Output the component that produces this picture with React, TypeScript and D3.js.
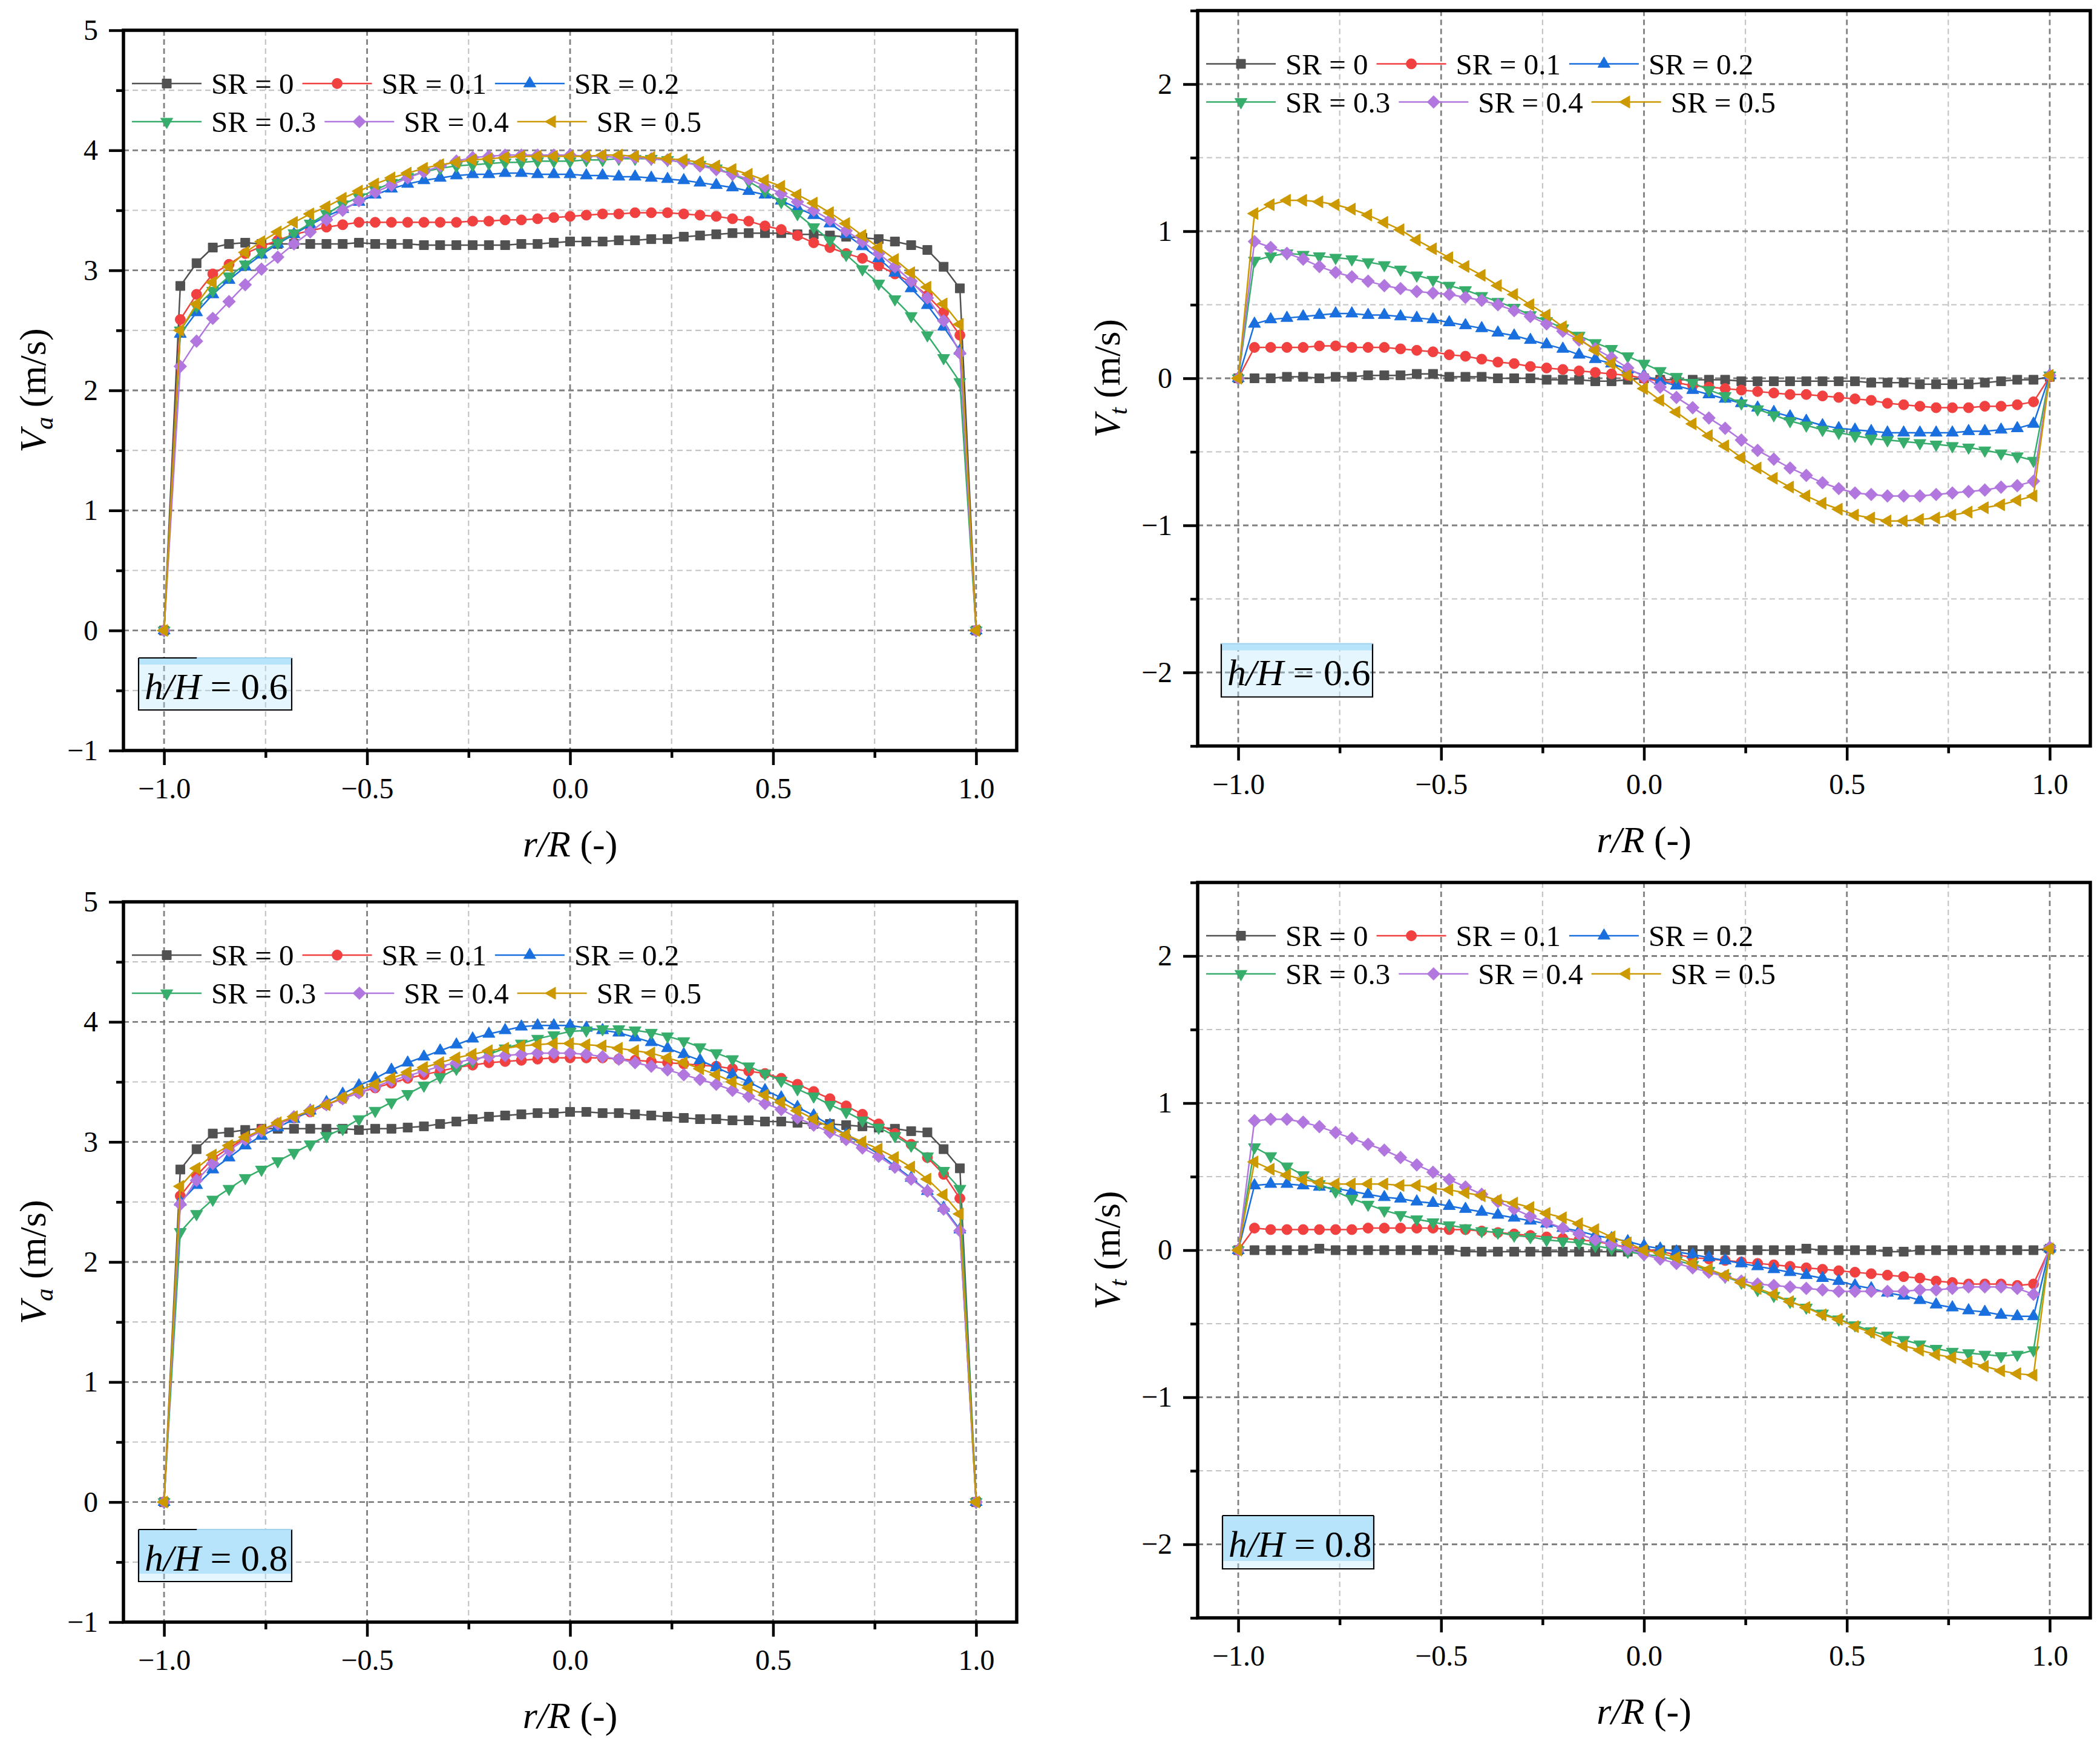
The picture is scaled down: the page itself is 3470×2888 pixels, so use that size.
import * as d3 from "d3";
import { useEffect, useRef } from "react";

// r/R positions of the samples
const rR = [
  -1.0, -0.96, -0.92, -0.88, -0.84, -0.8, -0.76, -0.72, -0.68, -0.64,
  -0.6, -0.56, -0.52, -0.48, -0.44, -0.4, -0.36, -0.32, -0.28, -0.24,
  -0.2, -0.16, -0.12, -0.08, -0.04, 0.0, 0.04, 0.08, 0.12, 0.16,
  0.2, 0.24, 0.28, 0.32, 0.36, 0.4, 0.44, 0.48, 0.52, 0.56,
  0.6, 0.64, 0.68, 0.72, 0.76, 0.8, 0.84, 0.88, 0.92, 0.96,
  1.0,
];

const srLabels = ["SR = 0", "SR = 0.1", "SR = 0.2", "SR = 0.3", "SR = 0.4", "SR = 0.5"];
const srColors = ["#515151", "#F14040", "#1A6FDF", "#37AD6B", "#B177DE", "#CC9900"];

// Va, h/H = 0.6
const va06Sr0 = [
  0, 2.87, 3.06, 3.19, 3.22, 3.23, 3.22, 3.22, 3.22, 3.22,
  3.22, 3.22, 3.23, 3.22, 3.22, 3.22, 3.21, 3.21, 3.21, 3.21,
  3.21, 3.21, 3.22, 3.22, 3.23, 3.24, 3.24, 3.24, 3.25, 3.25,
  3.26, 3.26, 3.28, 3.29, 3.3, 3.31, 3.31, 3.31, 3.31, 3.3,
  3.3, 3.29, 3.28, 3.27, 3.26, 3.24, 3.21, 3.17, 3.03, 2.85,
  0,
];
const va06Sr1 = [
  0, 2.59, 2.8, 2.97, 3.05, 3.14, 3.2, 3.25, 3.3, 3.33,
  3.36, 3.38, 3.4, 3.4, 3.4, 3.4, 3.4, 3.4, 3.4, 3.41,
  3.41, 3.42, 3.42, 3.43, 3.44, 3.45, 3.46, 3.47, 3.47, 3.48,
  3.48, 3.48, 3.47, 3.46, 3.45, 3.43, 3.41, 3.37, 3.34, 3.29,
  3.23, 3.19, 3.14, 3.1, 3.04, 2.97, 2.9, 2.79, 2.65, 2.46,
  0,
];
const va06Sr2 = [
  0, 2.47, 2.65, 2.8, 2.92, 3.03, 3.13, 3.22, 3.3, 3.38,
  3.45, 3.51, 3.57, 3.63, 3.68, 3.72, 3.75, 3.77, 3.79, 3.8,
  3.8, 3.81, 3.81, 3.8, 3.8, 3.8, 3.79, 3.79, 3.78, 3.78,
  3.77, 3.76, 3.75, 3.73, 3.71, 3.69, 3.66, 3.63, 3.58, 3.52,
  3.46, 3.39, 3.3, 3.2, 3.1, 2.98, 2.85, 2.71, 2.53, 2.33,
  0,
];
const va06Sr3 = [
  0, 2.5, 2.7, 2.83, 2.95, 3.05, 3.15, 3.23, 3.31, 3.39,
  3.47, 3.55, 3.61, 3.67, 3.73, 3.78, 3.82, 3.85, 3.87, 3.88,
  3.89, 3.9, 3.9, 3.91, 3.91, 3.91, 3.92, 3.92, 3.93, 3.93,
  3.93, 3.92, 3.9, 3.88, 3.85, 3.8, 3.74, 3.66, 3.57, 3.47,
  3.36, 3.25, 3.13, 3.01, 2.89, 2.76, 2.62, 2.46, 2.27, 2.07,
  0,
];
const va06Sr4 = [
  0, 2.2, 2.41, 2.6, 2.74, 2.88, 3.01, 3.11, 3.22, 3.32,
  3.42, 3.5, 3.58, 3.65, 3.71, 3.77, 3.82, 3.87, 3.91, 3.94,
  3.95, 3.96, 3.96, 3.96, 3.96, 3.96, 3.95, 3.95, 3.94, 3.94,
  3.93, 3.92, 3.9, 3.87, 3.84, 3.8, 3.76, 3.7, 3.64, 3.57,
  3.5, 3.42, 3.33, 3.24, 3.14, 3.03, 2.91, 2.77, 2.58, 2.31,
  0,
];
const va06Sr5 = [
  0, 2.5, 2.72, 2.9, 3.03, 3.15, 3.24, 3.32, 3.4, 3.47,
  3.53, 3.6, 3.66, 3.72, 3.77, 3.81, 3.85, 3.88, 3.9, 3.92,
  3.93, 3.94, 3.95, 3.95, 3.95, 3.95, 3.95, 3.96, 3.96, 3.95,
  3.94, 3.93, 3.92, 3.9, 3.87, 3.84, 3.8, 3.75, 3.7, 3.63,
  3.56, 3.48, 3.39, 3.29, 3.19, 3.09, 2.98, 2.86, 2.72, 2.55,
  0,
];

// Vt, h/H = 0.6
const vt06Sr0 = [
  0, 0.0, 0.0, 0.01, 0.01, 0.0, 0.01, 0.01, 0.02, 0.02,
  0.02, 0.03, 0.03, 0.01, 0.01, 0.01, 0.0, 0.0, 0.0, -0.01,
  -0.01, -0.01, -0.02, -0.02, -0.01, 0.0, -0.01, -0.01, -0.01, -0.01,
  -0.01, -0.02, -0.02, -0.02, -0.02, -0.02, -0.02, -0.02, -0.02, -0.03,
  -0.03, -0.03, -0.04, -0.04, -0.04, -0.04, -0.03, -0.02, -0.01, -0.01,
  0.01,
];
const vt06Sr1 = [
  0, 0.21, 0.21, 0.21, 0.21, 0.22, 0.22, 0.21, 0.21, 0.21,
  0.2, 0.19, 0.18, 0.16, 0.15, 0.13, 0.11, 0.1, 0.08, 0.07,
  0.06, 0.05, 0.04, 0.03, 0.02, 0.0, -0.02, -0.03, -0.05, -0.06,
  -0.07, -0.08, -0.09, -0.1, -0.11, -0.11, -0.12, -0.13, -0.14, -0.15,
  -0.17, -0.18, -0.19, -0.2, -0.2, -0.2, -0.19, -0.19, -0.18, -0.16,
  0.01,
];
const vt06Sr2 = [
  0, 0.37, 0.4, 0.41, 0.42, 0.43, 0.44, 0.44, 0.43, 0.43,
  0.42, 0.41, 0.4, 0.38, 0.36, 0.34, 0.31, 0.29, 0.26, 0.23,
  0.2, 0.16, 0.13, 0.1, 0.06, 0.02, -0.02, -0.05, -0.08, -0.11,
  -0.14, -0.17, -0.2, -0.23, -0.26, -0.29, -0.32, -0.34, -0.35, -0.36,
  -0.37, -0.37, -0.37, -0.37, -0.37, -0.36, -0.36, -0.35, -0.34, -0.31,
  0.02,
];
const vt06Sr3 = [
  0, 0.8, 0.83, 0.85, 0.84, 0.83, 0.82, 0.81, 0.79, 0.77,
  0.74, 0.7, 0.67, 0.63, 0.6, 0.56, 0.52, 0.48, 0.43, 0.39,
  0.34, 0.29, 0.24, 0.2, 0.15, 0.1, 0.05, 0.01, -0.03, -0.08,
  -0.12, -0.17, -0.21, -0.25, -0.29, -0.32, -0.35, -0.37, -0.39, -0.41,
  -0.42, -0.43, -0.44, -0.45, -0.46, -0.47, -0.49, -0.51, -0.53, -0.56,
  0.02,
];
const vt06Sr4 = [
  0, 0.93, 0.89, 0.85, 0.81, 0.76, 0.72, 0.69, 0.66, 0.63,
  0.61, 0.59, 0.58, 0.57, 0.55, 0.53, 0.5, 0.46, 0.42, 0.37,
  0.32, 0.26, 0.2, 0.14, 0.07, 0.01, -0.06, -0.13, -0.2, -0.27,
  -0.34, -0.42, -0.49, -0.55, -0.61, -0.66, -0.71, -0.75, -0.78, -0.79,
  -0.8, -0.8, -0.8, -0.79, -0.78, -0.77, -0.76, -0.74, -0.73, -0.7,
  0.02,
];
const vt06Sr5 = [
  0, 1.12, 1.18, 1.21, 1.21, 1.2, 1.18, 1.15, 1.11, 1.06,
  1.01, 0.94, 0.88, 0.82, 0.76, 0.7, 0.63, 0.57, 0.5, 0.43,
  0.35, 0.27, 0.19, 0.1, 0.02, -0.07, -0.15, -0.23, -0.31, -0.39,
  -0.46, -0.54, -0.61, -0.68, -0.74, -0.8, -0.85, -0.89, -0.93, -0.95,
  -0.97, -0.97, -0.96, -0.95, -0.93, -0.91, -0.88, -0.86, -0.83, -0.8,
  0.02,
];

// Va, h/H = 0.8
const va08Sr0 = [
  0, 2.77, 2.94, 3.07, 3.08, 3.1, 3.11, 3.11, 3.11, 3.11,
  3.11, 3.11, 3.1, 3.11, 3.11, 3.12, 3.13, 3.15, 3.17, 3.19,
  3.21, 3.22, 3.23, 3.24, 3.24, 3.25, 3.25, 3.24, 3.24, 3.23,
  3.22, 3.21, 3.2, 3.19, 3.19, 3.18, 3.18, 3.17, 3.17, 3.16,
  3.15, 3.15, 3.14, 3.13, 3.12, 3.11, 3.09, 3.08, 2.94, 2.78,
  0,
];
const va08Sr1 = [
  0, 2.55, 2.72, 2.86, 2.95, 3.03, 3.1, 3.15, 3.2, 3.25,
  3.31, 3.36, 3.41, 3.45, 3.49, 3.53, 3.56, 3.59, 3.62, 3.64,
  3.66, 3.67, 3.68, 3.69, 3.7, 3.7, 3.7, 3.7, 3.69, 3.68,
  3.67, 3.66, 3.65, 3.64, 3.63, 3.61, 3.59, 3.57, 3.53, 3.48,
  3.42, 3.36, 3.3, 3.23, 3.15, 3.07, 2.98, 2.87, 2.73, 2.53,
  0,
];
const va08Sr2 = [
  0, 2.5, 2.64, 2.77, 2.87, 2.97, 3.05, 3.12, 3.19, 3.26,
  3.33, 3.4, 3.47, 3.53, 3.6, 3.66, 3.71, 3.76, 3.81, 3.86,
  3.9, 3.93, 3.96, 3.97, 3.97, 3.97, 3.95, 3.93, 3.91, 3.87,
  3.83, 3.78, 3.73, 3.68, 3.62, 3.56, 3.5, 3.43, 3.37, 3.29,
  3.22, 3.14, 3.06, 2.98, 2.9, 2.8, 2.7, 2.59, 2.45, 2.27,
  0,
];
const va08Sr3 = [
  0, 2.25, 2.4, 2.52, 2.61, 2.7, 2.77, 2.84, 2.91, 2.98,
  3.05, 3.11, 3.19, 3.26, 3.33, 3.4, 3.47, 3.54, 3.61, 3.67,
  3.73, 3.78, 3.82, 3.86, 3.89, 3.92, 3.93, 3.94, 3.94, 3.93,
  3.91, 3.88, 3.84, 3.79, 3.74, 3.69, 3.63, 3.57, 3.51, 3.44,
  3.38, 3.31, 3.25, 3.18, 3.12, 3.05, 2.97, 2.88, 2.76, 2.61,
  0,
];
const va08Sr4 = [
  0, 2.48, 2.68, 2.82, 2.93, 3.02, 3.09, 3.15, 3.21, 3.26,
  3.31, 3.36, 3.41, 3.46, 3.51, 3.55, 3.59, 3.63, 3.66, 3.69,
  3.71, 3.72, 3.73, 3.74, 3.74, 3.74, 3.73, 3.71, 3.69, 3.66,
  3.63, 3.6, 3.56, 3.52, 3.48, 3.43, 3.38, 3.32, 3.27, 3.2,
  3.14, 3.08, 3.02, 2.95, 2.88, 2.79, 2.69, 2.59, 2.44, 2.26,
  0,
];
const va08Sr5 = [
  0, 2.63, 2.78, 2.89, 2.97, 3.04, 3.1, 3.16, 3.21, 3.26,
  3.31, 3.37, 3.43, 3.48, 3.53, 3.58, 3.62, 3.66, 3.7, 3.73,
  3.76, 3.78, 3.8, 3.81, 3.82, 3.82, 3.81, 3.8, 3.78, 3.76,
  3.74, 3.7, 3.66, 3.61, 3.56, 3.5, 3.45, 3.39, 3.33, 3.26,
  3.19, 3.12, 3.06, 3.0, 2.94, 2.87, 2.79, 2.69, 2.56, 2.4,
  0,
];

// Vt, h/H = 0.8
const vt08Sr0 = [
  0, 0.0, 0.0, 0.0, 0.0, 0.01, 0.0, 0.0, 0.0, 0.0,
  0.0, 0.0, 0.0, 0.0, -0.01, -0.01, -0.01, -0.01, -0.01, -0.01,
  -0.01, -0.01, -0.01, -0.01, -0.01, 0.0, 0.0, 0.0, 0.0, 0.0,
  0.0, 0.0, 0.0, 0.0, 0.0, 0.01, 0.0, 0.0, 0.0, 0.0,
  -0.01, -0.01, 0.0, 0.0, 0.0, 0.0, 0.0, 0.0, 0.0, 0.0,
  0.01,
];
const vt08Sr1 = [
  0, 0.15, 0.14, 0.14, 0.14, 0.14, 0.14, 0.14, 0.15, 0.15,
  0.15, 0.15, 0.15, 0.14, 0.14, 0.13, 0.12, 0.11, 0.1, 0.09,
  0.08, 0.07, 0.06, 0.04, 0.02, 0.01, -0.01, -0.03, -0.05, -0.06,
  -0.07, -0.08, -0.09, -0.1, -0.11, -0.12, -0.13, -0.14, -0.15, -0.16,
  -0.17, -0.18, -0.19, -0.21, -0.22, -0.23, -0.23, -0.23, -0.24, -0.23,
  0.01,
];
const vt08Sr2 = [
  0, 0.44, 0.45, 0.45, 0.44, 0.43, 0.42, 0.4, 0.38, 0.36,
  0.35, 0.33, 0.32, 0.3, 0.28, 0.26, 0.24, 0.22, 0.2, 0.18,
  0.15, 0.13, 0.1, 0.08, 0.06, 0.03, 0.01, -0.01, -0.03, -0.05,
  -0.07, -0.09, -0.11, -0.13, -0.15, -0.17, -0.19, -0.21, -0.24, -0.26,
  -0.29, -0.31, -0.34, -0.37, -0.39, -0.41, -0.42, -0.44, -0.45, -0.45,
  0.01,
];
const vt08Sr3 = [
  0, 0.7, 0.64, 0.57, 0.51, 0.45, 0.4, 0.35, 0.31, 0.27,
  0.24, 0.21, 0.19, 0.17, 0.15, 0.13, 0.12, 0.1, 0.09, 0.07,
  0.06, 0.05, 0.03, 0.01, -0.01, -0.03, -0.04, -0.07, -0.1, -0.14,
  -0.18, -0.22, -0.27, -0.31, -0.35, -0.39, -0.43, -0.47, -0.51, -0.55,
  -0.58, -0.61, -0.64, -0.67, -0.69, -0.7, -0.71, -0.72, -0.71, -0.68,
  0.01,
];
const vt08Sr4 = [
  0, 0.88, 0.89, 0.89, 0.87, 0.84, 0.8, 0.76, 0.72, 0.68,
  0.63, 0.58, 0.53, 0.48, 0.43, 0.38, 0.33, 0.28, 0.23, 0.19,
  0.15, 0.11, 0.07, 0.04, 0.01, -0.03, -0.06, -0.09, -0.12, -0.15,
  -0.18, -0.21, -0.23, -0.24, -0.25, -0.26, -0.27, -0.28, -0.28, -0.28,
  -0.28, -0.28, -0.27, -0.27, -0.26, -0.25, -0.25, -0.25, -0.26, -0.3,
  0.02,
];
const vt08Sr5 = [
  0, 0.6, 0.55, 0.51, 0.48, 0.46, 0.45, 0.45, 0.45, 0.45,
  0.44, 0.44, 0.42, 0.41, 0.39, 0.37, 0.34, 0.32, 0.29, 0.25,
  0.22, 0.18, 0.14, 0.09, 0.05, 0.0, -0.02, -0.05, -0.09, -0.13,
  -0.17, -0.22, -0.26, -0.3, -0.35, -0.39, -0.44, -0.47, -0.52, -0.56,
  -0.61, -0.65, -0.68, -0.71, -0.73, -0.76, -0.79, -0.82, -0.84, -0.85,
  0.01,
];

const xMajor = [-1, -0.5, 0, 0.5, 1];
const xMinor = [-0.75, -0.25, 0.25, 0.75];
const vaMajor = [-1, 0, 1, 2, 3, 4, 5];
const vaMinor = [-0.5, 0.5, 1.5, 2.5, 3.5, 4.5];
const vtMajor = [-2, -1, 0, 1, 2];
const vtMinor = [-2.5, -1.5, -0.5, 0.5, 1.5, 2.5];

const FONT = "'Liberation Serif', 'Times New Roman', serif";

type Panel = {
  left: number;
  top: number;
  width: number;
  height: number;
  yDomain: [number, number];
  yMajor: number[];
  yMinor: number[];
  sub: string;
  hH: string;
  series: number[][];
  box: { dx: number; w: number; dBottom: number; h: number; solid: boolean; topBlack: number };
};

const panels: Panel[] = [
  {
    left: 204, top: 50, width: 1476, height: 1190,
    yDomain: [-1, 5], yMajor: vaMajor, yMinor: vaMinor, sub: "a", hH: "0.6",
    series: [va06Sr0, va06Sr1, va06Sr2, va06Sr3, va06Sr4, va06Sr5],
    box: { dx: 25, w: 253, dBottom: 67, h: 86, solid: false, topBlack: 0.38 },
  },
  {
    left: 1979, top: 17.5, width: 1475, height: 1215,
    yDomain: [-2.5, 2.5], yMajor: vtMajor, yMinor: vtMinor, sub: "t", hH: "0.6",
    series: [vt06Sr0, vt06Sr1, vt06Sr2, vt06Sr3, vt06Sr4, vt06Sr5],
    box: { dx: 39, w: 250, dBottom: 81, h: 88, solid: false, topBlack: 0 },
  },
  {
    left: 204, top: 1490, width: 1476, height: 1190,
    yDomain: [-1, 5], yMajor: vaMajor, yMinor: vaMinor, sub: "a", hH: "0.8",
    series: [va08Sr0, va08Sr1, va08Sr2, va08Sr3, va08Sr4, va08Sr5],
    box: { dx: 25, w: 253, dBottom: 67, h: 86, solid: true, topBlack: 0.38 },
  },
  {
    left: 1979, top: 1458, width: 1475, height: 1215,
    yDomain: [-2.5, 2.5], yMajor: vtMajor, yMinor: vtMinor, sub: "t", hH: "0.8",
    series: [vt08Sr0, vt08Sr1, vt08Sr2, vt08Sr3, vt08Sr4, vt08Sr5],
    box: { dx: 41, w: 250, dBottom: 81, h: 88, solid: true, topBlack: 1 },
  },
];

// marker shape + rotation for each SR
const markerSym = [
  { type: d3.symbolSquare, size: 225, rot: 0 },
  { type: d3.symbolCircle, size: 225, rot: 0 },
  { type: d3.symbolTriangle, size: 175, rot: 0 },
  { type: d3.symbolTriangle, size: 175, rot: 180 },
  { type: d3.symbolSquare, size: 215, rot: 45 },
  { type: d3.symbolTriangle, size: 175, rot: -90 },
];

function drawPanel(svg: d3.Selection<SVGSVGElement, unknown, null, undefined>, p: Panel) {
  const x = d3.scaleLinear().domain([-1.1, 1.1]).range([p.left, p.left + p.width]);
  const y = d3.scaleLinear().domain(p.yDomain).range([p.top + p.height, p.top]);
  const g = svg.append("g");
  const bottom = p.top + p.height;

  // grid lines
  const grid = g.append("g");
  const gridLine = (vals: number[], vertical: boolean, color: string, w: number) =>
    grid
      .append("g")
      .selectAll("line")
      .data(vals)
      .join("line")
      .attr("x1", (d) => (vertical ? x(d) : p.left))
      .attr("x2", (d) => (vertical ? x(d) : p.left + p.width))
      .attr("y1", (d) => (vertical ? p.top : y(d)))
      .attr("y2", (d) => (vertical ? bottom : y(d)))
      .attr("stroke", color)
      .attr("stroke-width", w)
      .attr("stroke-dasharray", "9,6");
  gridLine(xMinor, true, "#c4c4c4", 2.2);
  gridLine(p.yMinor, false, "#c4c4c4", 2.2);
  gridLine(xMajor, true, "#808080", 2.8);
  gridLine(p.yMajor, false, "#808080", 2.8);

  // h/H label box
  const b = p.box;
  const bx = p.left + b.dx;
  const by = bottom - b.dBottom - b.h;
  const boxG = g.append("g");
  boxG.append("rect").attr("x", bx).attr("y", by).attr("width", b.w).attr("height", b.h)
    .attr("fill", "#b8e4fb").attr("fill-opacity", 0.35);
  if (b.solid) {
    boxG.append("rect").attr("x", bx).attr("y", by).attr("width", b.w).attr("height", b.h - 13)
      .attr("fill", "#b8e4fb");
  } else {
    boxG.append("rect").attr("x", bx).attr("y", by).attr("width", b.w).attr("height", 11)
      .attr("fill", "#b8e4fb");
  }
  boxG.append("path")
    .attr("d", `M${bx},${by}V${by + b.h}H${bx + b.w}V${by}`)
    .attr("fill", "none").attr("stroke", "#000").attr("stroke-width", 2.2);
  boxG.append("line").attr("x1", bx).attr("x2", bx + b.w).attr("y1", by).attr("y2", by)
    .attr("stroke", "#9fd3f0").attr("stroke-width", 2);
  if (b.topBlack > 0) {
    boxG.append("line").attr("x1", bx).attr("x2", bx + b.w * b.topBlack).attr("y1", by).attr("y2", by)
      .attr("stroke", "#000").attr("stroke-width", 2.2);
  }
  const bt = boxG.append("text").attr("x", bx + 10).attr("y", by + 68)
    .attr("font-family", FONT).attr("font-size", 62).attr("fill", "#000");
  bt.append("tspan").attr("font-style", "italic").text("h/H");
  bt.append("tspan").text(" = " + p.hH);

  // series
  const line = d3.line<number>().x((_, i) => x(rR[i])).y((d) => y(d));
  p.series.forEach((vals, k) => {
    const sg = g.append("g");
    sg.append("path").attr("d", line(vals)).attr("fill", "none")
      .attr("stroke", srColors[k]).attr("stroke-width", 2.5).attr("stroke-linejoin", "round");
    const m = markerSym[k];
    const sym = d3.symbol().type(m.type).size(m.size);
    sg.selectAll("path.mk").data(vals).join("path").attr("class", "mk")
      .attr("d", sym())
      .attr("transform", (d, i) => `translate(${x(rR[i])},${y(d)}) rotate(${m.rot})`)
      .attr("fill", srColors[k]).attr("stroke", srColors[k]).attr("stroke-width", 1);
  });

  // legend
  const legend = g.append("g").attr("font-family", FONT).attr("font-size", 49);
  [[0, 1, 2], [3, 4, 5]].forEach((row, r) => {
    let lx = p.left + 14;
    const ly = p.top + (r === 0 ? 88 : 151);
    row.forEach((k) => {
      legend.append("line").attr("x1", lx).attr("x2", lx + 115).attr("y1", ly).attr("y2", ly)
        .attr("stroke", srColors[k]).attr("stroke-width", 2.5);
      const m = markerSym[k];
      legend.append("path").attr("d", d3.symbol().type(m.type).size(m.size)())
        .attr("transform", `translate(${lx + 57.5},${ly}) rotate(${m.rot})`)
        .attr("fill", srColors[k]).attr("stroke", srColors[k]).attr("stroke-width", 1);
      const t = legend.append("text").attr("x", lx + 131).attr("y", ly).attr("dy", "0.35em")
        .attr("fill", "#000").text(srLabels[k]);
      const w = (t.node() as SVGTextElement).getComputedTextLength();
      lx = lx + 131 + w + 14;
    });
  });

  // frame
  g.append("rect").attr("x", p.left).attr("y", p.top).attr("width", p.width).attr("height", p.height)
    .attr("fill", "none").attr("stroke", "#000").attr("stroke-width", 5.5);

  // axes
  const styleAxis = (a: d3.Selection<SVGGElement, unknown, null, undefined>) => {
    a.select(".domain").remove();
    a.selectAll(".tick line").attr("stroke", "#000").attr("stroke-width", 4.5);
    a.selectAll(".tick text").attr("fill", "#000").attr("font-family", FONT).attr("font-size", 48);
  };
  const xa = g.append("g").attr("transform", `translate(0,${bottom})`)
    .call(d3.axisBottom(x).tickValues(xMajor).tickSize(24).tickPadding(21).tickFormat(d3.format(".1f")));
  styleAxis(xa);
  const xm = g.append("g").attr("transform", `translate(0,${bottom})`)
    .call(d3.axisBottom(x).tickValues(xMinor).tickSize(12).tickFormat(() => ""));
  styleAxis(xm);
  const ya = g.append("g").attr("transform", `translate(${p.left},0)`)
    .call(d3.axisLeft(y).tickValues(p.yMajor).tickSize(24).tickPadding(18).tickFormat(d3.format("d")));
  styleAxis(ya);
  const ym = g.append("g").attr("transform", `translate(${p.left},0)`)
    .call(d3.axisLeft(y).tickValues(p.yMinor).tickSize(12).tickFormat(() => ""));
  styleAxis(ym);

  // axis titles
  const xt = g.append("text").attr("x", p.left + p.width / 2).attr("y", bottom + 175)
    .attr("text-anchor", "middle").attr("font-family", FONT).attr("font-size", 62).attr("fill", "#000");
  xt.append("tspan").attr("font-style", "italic").text("r/R");
  xt.append("tspan").text(" (-)");

  const yt = g.append("text")
    .attr("transform", `translate(${p.left - 129},${p.top + p.height / 2}) rotate(-90)`)
    .attr("text-anchor", "middle").attr("font-family", FONT).attr("font-size", 62).attr("fill", "#000");
  yt.append("tspan").attr("font-style", "italic").text("V");
  yt.append("tspan").attr("font-style", "italic").attr("font-size", 42).attr("dy", 12).text(p.sub);
  yt.append("tspan").attr("dy", -12).text(" (m/s)");
}

export default function App() {
  const svgRef = useRef<SVGSVGElement | null>(null);

  useEffect(() => {
    if (!svgRef.current) return;
    const svg = d3.select(svgRef.current);
    svg.selectAll("*").remove();
    svg.append("rect").attr("width", 3470).attr("height", 2888).attr("fill", "#fff");
    panels.forEach((p) => drawPanel(svg, p));
  }, []);

  return (
    <svg
      ref={svgRef}
      width={3470}
      height={2888}
      style={{ position: "absolute", left: 0, top: 0, display: "block" }}
    />
  );
}
